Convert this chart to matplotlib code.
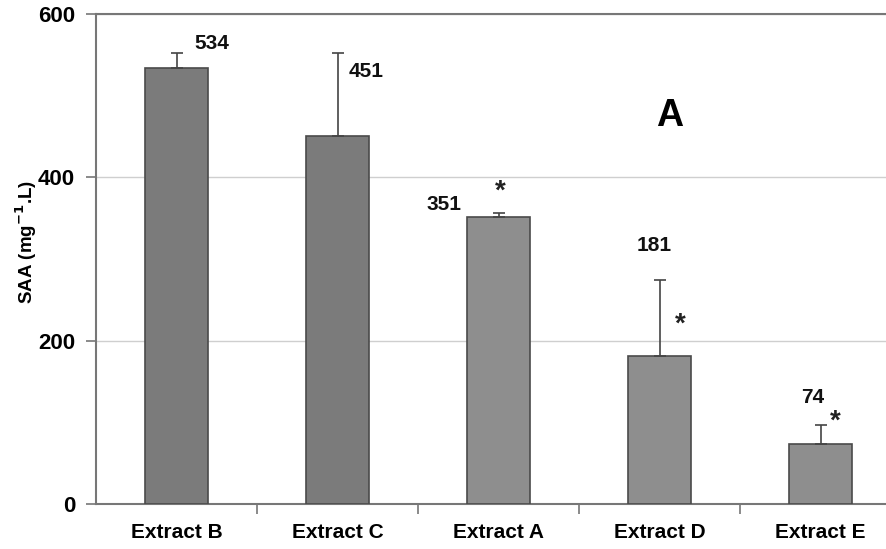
import matplotlib.pyplot as plt
import numpy as np

# data
extracts = ['Extract B', 'Extract C', 'Extract A', 'Extract D', 'Extract E']
saa = [534, 451, 351, 181, 74]
saa_err = [18, 101, 5, 93, 23]
significant = [False, False, True, True, True]

# label placement (offsets from bar centre in x, absolute y in data units)
lab_dx = [0.22, 0.18, -0.34, -0.03, -0.05]
lab_y = [564, 529, 367, 317, 131]
star_dx = [0, 0, 0.01, 0.13, 0.09]
star_y = [0, 0, 383, 220, 101]

plt.rcParams['font.family'] = ['Liberation Sans', 'DejaVu Sans']
plt.rcParams['font.weight'] = 'bold'

fig = plt.figure(figsize=(8.86, 5.49), dpi=100)
ax = fig.add_axes([96/886, 45/549, 805/886, 490/549])

idx = np.arange(len(extracts))
colors = ['#7b7b7b' if not s else '#8e8e8e' for s in significant]
ax.bar(idx, saa, 0.39, color=colors, edgecolor='#4a4a4a', linewidth=1.2, zorder=3)
ax.errorbar(idx, saa, yerr=[np.zeros(len(saa)), saa_err], fmt='none',
            ecolor='#444444', elinewidth=1.2, capsize=4, capthick=1.2, zorder=4)

for i in idx:
    ax.text(i + lab_dx[i], lab_y[i], str(saa[i]), ha='center', va='center',
            fontsize=15, fontweight='bold', color='#111111')
    if significant[i]:
        ax.text(i + star_dx[i], star_y[i], '*', ha='center', va='center',
                fontsize=20, fontweight='bold', color='#222222')

ax.text(3.06, 475, 'A', ha='center', va='center', fontsize=27,
        fontweight='bold', color='black')

ax.set_xlim(-0.5, 4.5)
ax.set_ylim(0, 600)
ax.set_yticks([0, 200, 400, 600])
ax.set_xticks(idx)
ax.set_xticklabels(extracts)
ax.tick_params(axis='x', length=0, pad=14, labelsize=15)
ax.set_xticks(np.arange(0.5, 4.5, 1), minor=True)
ax.tick_params(axis='x', which='minor', length=7, color='#777777', width=1.2)
ax.tick_params(axis='y', length=7, color='#777777', width=1.2, pad=8, labelsize=16)
for lab in ax.get_xticklabels() + ax.get_yticklabels():
    lab.set_fontweight('bold')

ax.grid(axis='y', color='#cfcfcf', linewidth=1.0, zorder=0)
for s in ['left', 'bottom', 'top']:
    ax.spines[s].set_color('#777777')
    ax.spines[s].set_linewidth(1.5)
ax.spines['right'].set_visible(False)

ax.set_ylabel('SAA (mg$^{\\mathbf{-1}}$.L)', fontsize=13.5, fontweight='bold')
ax.yaxis.set_label_coords(-0.071, 0.535)

plt.savefig('out.png', dpi=100)
